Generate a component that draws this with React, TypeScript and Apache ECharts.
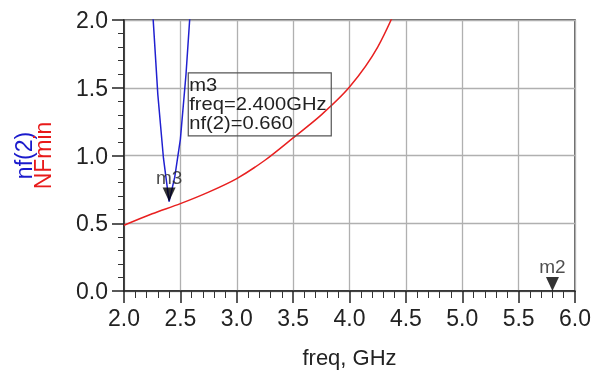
import React, { useEffect, useRef } from "react";
import * as echarts from "echarts";

const xTicks = [2.0, 2.5, 3.0, 3.5, 4.0, 4.5, 5.0, 5.5, 6.0];
const yTicks = [0.0, 0.5, 1.0, 1.5, 2.0];
const nfFreq = [2.2, 2.25, 2.3, 2.35, 2.4, 2.45, 2.5, 2.55, 2.6];
const nfValues = [2.75, 2.12, 1.45, 0.98, 0.66, 0.84, 1.12, 1.6, 2.22];
const nfminFreq = [2.0, 2.25, 2.5, 2.75, 3.0, 3.25, 3.5, 3.75, 4.0, 4.25, 4.5];
const nfminValues = [0.485, 0.57, 0.645, 0.73, 0.83, 0.965, 1.13, 1.3, 1.505, 1.8, 2.25];
const markerM3 = { name: "m3", freq: 2.4, value: 0.66 };
const markerM2 = { name: "m2", freq: 5.8, value: 0.0 };
const boxLines = ["m3", "freq=2.400GHz", "nf(2)=0.660"];
const boxAnchor = [2.57, 1.61];

const FONT = "'Liberation Sans', Arial, sans-serif";
const TXT = "#222";

export default function App() {
  const ref = useRef<HTMLDivElement>(null);
  useEffect(() => {
    if (!ref.current) return;
    const chart = echarts.init(ref.current, null, { renderer: "svg" });
    const markerSeries = (m: { name: string; freq: number; value: number }) => ({
      type: "scatter",
      data: [[m.freq, m.value]],
      symbol: "triangle",
      symbolRotate: 180,
      symbolSize: [13, 14],
      symbolOffset: [0, "-50%"],
      itemStyle: { color: "#000" },
      clip: false,
      z: 5,
      label: {
        show: true,
        position: "top",
        distance: 1,
        formatter: m.name,
        fontFamily: FONT,
        fontSize: 19,
        color: TXT,
      },
    });
    chart.setOption({
      animation: false,
      grid: {
        left: 124,
        right: 17,
        top: 20,
        bottom: 82,
        show: true,
        borderColor: "#333",
        borderWidth: 1.5,
        outerBoundsMode: "none",
      },
      xAxis: {
        type: "value",
        min: xTicks[0],
        max: xTicks[xTicks.length - 1],
        interval: 0.5,
        name: "freq, GHz",
        nameLocation: "middle",
        nameGap: 55,
        nameTextStyle: { fontFamily: FONT, fontSize: 22, color: TXT },
        axisLine: { show: true, lineStyle: { color: "#222", width: 1.5 } },
        axisTick: { show: true, length: 12, lineStyle: { color: "#222", width: 1.5 } },
        minorTick: { show: true, splitNumber: 5, length: 7, lineStyle: { color: "#333", width: 1 } },
        axisLabel: {
          margin: 15,
          fontFamily: FONT,
          fontSize: 23,
          color: TXT,
          formatter: (v: number) => v.toFixed(1),
        },
        splitLine: { show: true, lineStyle: { color: "#b0b0b0", width: 1.3 } },
      },
      yAxis: {
        type: "value",
        min: yTicks[0],
        max: yTicks[yTicks.length - 1],
        interval: 0.5,
        name: "{a|nf(2)}\n{b|NFmin}",
        nameLocation: "middle",
        nameRotate: 90,
        nameGap: 72,
        nameTextStyle: {
          fontFamily: FONT,
          fontSize: 23,
          lineHeight: 19,
          rich: {
            a: { color: "#1a1acc", fontSize: 23, fontFamily: FONT, lineHeight: 19 },
            b: { color: "#e81a1a", fontSize: 23, fontFamily: FONT, lineHeight: 19 },
          },
        },
        axisLine: { show: true, lineStyle: { color: "#222", width: 1.5 } },
        axisTick: { show: true, length: 12, lineStyle: { color: "#222", width: 1.5 } },
        minorTick: { show: true, splitNumber: 5, length: 6, lineStyle: { color: "#333", width: 1 } },
        axisLabel: {
          margin: 16,
          fontFamily: FONT,
          fontSize: 23,
          color: TXT,
          formatter: (v: number) => v.toFixed(1),
        },
        splitLine: { show: true, lineStyle: { color: "#b0b0b0", width: 1.3 } },
      },
      series: [
        {
          type: "line",
          name: "NFmin",
          data: nfminFreq.map((f, i) => [f, nfminValues[i]]),
          smooth: 0.3,
          symbol: "none",
          clip: true,
          lineStyle: { color: "#e82020", width: 1.5 },
          z: 3,
        },
        {
          type: "line",
          name: "nf(2)",
          data: nfFreq.map((f, i) => [f, nfValues[i]]),
          symbol: "none",
          clip: true,
          lineStyle: { color: "#2020d0", width: 1.5 },
          z: 3,
        },
        markerSeries(markerM3),
        markerSeries(markerM2),
      ],
    });
    const p = chart.convertToPixel({ gridIndex: 0 }, boxAnchor) as number[];
    chart.setOption({
      graphic: [
        {
          type: "rect",
          x: p[0],
          y: p[1],
          shape: { width: 143, height: 63 },
          style: { fill: "none", stroke: "#555", lineWidth: 1.2 },
          z: 10,
        },
        {
          type: "text",
          x: p[0] + 1,
          y: p[1] + 3,
          scaleX: 1.12,
          style: {
            text: boxLines.join("\n"),
            fontFamily: FONT,
            fontSize: 18,
            lineHeight: 19,
            fill: TXT,
          },
          z: 10,
        },
      ],
    });
    return () => chart.dispose();
  }, []);
  return (
    <div
      ref={ref}
      style={{ position: "fixed", left: 0, top: 0, width: 592, height: 373 }}
    />
  );
}
